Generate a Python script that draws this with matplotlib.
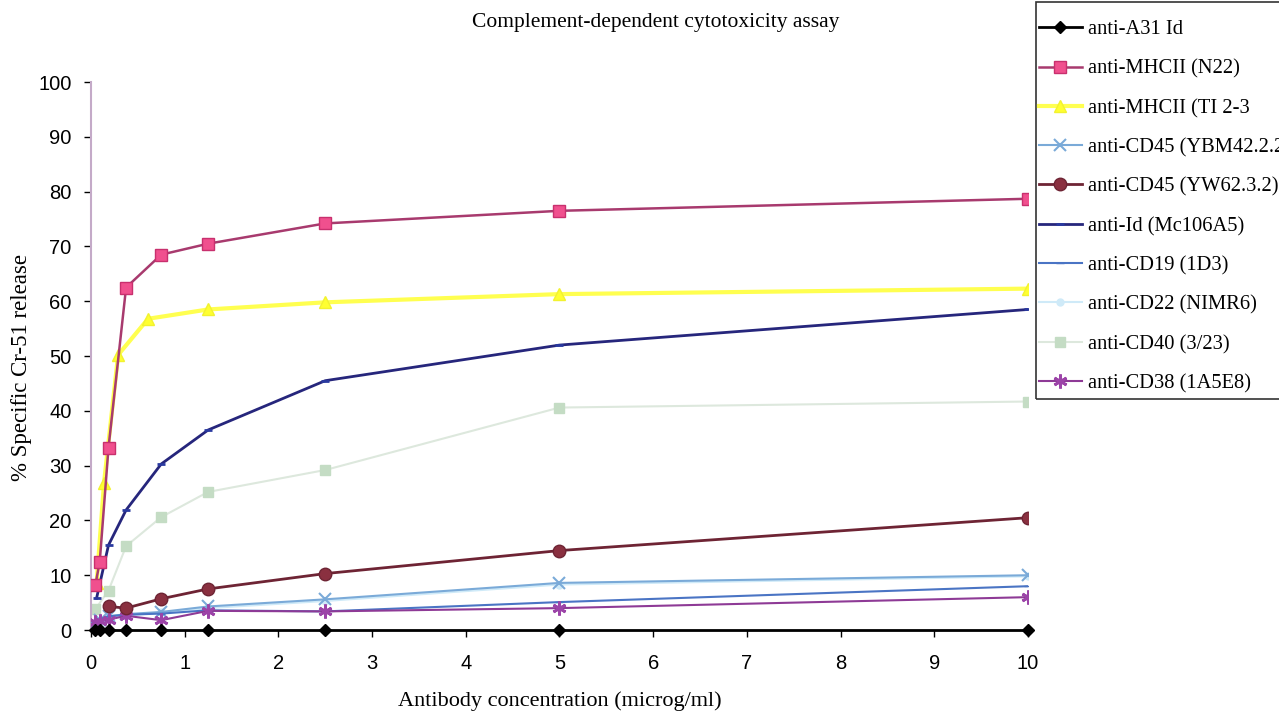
import matplotlib
matplotlib.use("Agg")
import matplotlib.pyplot as plt
from matplotlib.patches import Rectangle

# Antibody concentrations (microg/ml) used for most antibodies
conc = [0.047, 0.094, 0.1875, 0.375, 0.75, 1.25, 2.5, 5, 10]

# % specific Cr-51 release per antibody
a31_y = [0, 0, 0, 0, 0, 0, 0, 0, 0]
n22_y = [8.2, 12.5, 33.3, 62.5, 68.5, 70.5, 74.2, 76.5, 78.7]
ti_x = [0.06, 0.14, 0.29, 0.61, 1.25, 2.5, 5, 10]
ti_y = [8.5, 26.9, 50.2, 56.8, 58.5, 59.8, 61.3, 62.3]
ybm_y = [1.0, 1.8, 2.5, 2.9, 3.3, 4.3, 5.6, 8.6, 10.0]
yw_x = [0.1875, 0.375, 0.75, 1.25, 2.5, 5, 10]
yw_y = [4.3, 4.0, 5.7, 7.5, 10.3, 14.5, 20.5]
mc_x = [0.06, 0.1875, 0.375, 0.75, 1.25, 2.5, 5, 10]
mc_y = [5.8, 15.5, 21.9, 30.3, 36.5, 45.5, 52.0, 58.5]
cd19_y = [1.5, 2.0, 2.5, 2.8, 3.0, 3.6, 3.4, 5.1, 8.0]
cd22_y = [0.3, 1.0, 2.2, 2.6, 3.2, 4.0, 5.3, 8.3, 9.8]
cd40_x = [0.047, 0.1875, 0.375, 0.75, 1.25, 2.5, 5, 10]
cd40_y = [3.8, 7.2, 15.3, 20.6, 25.2, 29.2, 40.6, 41.7]
cd38_y = [1.5, 1.7, 1.9, 2.6, 1.8, 3.5, 3.4, 4.0, 6.0]

labels = ["anti-A31 Id", "anti-MHCII (N22)", "anti-MHCII (TI 2-3",
          "anti-CD45 (YBM42.2.2)", "anti-CD45 (YW62.3.2)", "anti-Id (Mc106A5)",
          "anti-CD19 (1D3)", "anti-CD22 (NIMR6)", "anti-CD40 (3/23)",
          "anti-CD38 (1A5E8)"]

serif = "Liberation Serif"
sans = "Liberation Sans"

fig = plt.figure(figsize=(12.79, 7.14), dpi=100)
ax = fig.add_axes([0.0711, 0.1176, 0.7327, 0.7675])

# faint lines first so the strong ones sit on top
ax.plot(cd40_x, cd40_y, color="#dde8dd", lw=1.5, marker="s", ms=7,
        mfc="#c4dcc4", mec="#c4dcc4", label=labels[8], zorder=2)
ax.plot(conc, cd22_y, color="#cfeaf8", lw=1.5, marker="o", ms=5,
        mfc="#cfeaf8", mec="#cfeaf8", label=labels[7], zorder=2)
ax.plot(conc, ybm_y, color="#7aaad8", lw=1.5, marker="x", ms=8, mew=1.5,
        label=labels[3], zorder=3)
ax.plot(conc, cd19_y, color="#4a74c4", lw=1.5, marker="_", ms=6,
        label=labels[6], zorder=3)
ax.plot(conc, cd38_y, color="#8e3a96", lw=1.5, marker=(6, 2, 0), ms=10,
        mew=2, mec="#9c44a8", label=labels[9], zorder=4)
ax.plot(yw_x, yw_y, color="#6e2434", lw=2, marker="o", ms=9,
        mfc="#8a3040", mec="#6e2434", label=labels[4], zorder=4)
ax.plot(mc_x, mc_y, color="#26267c", lw=2, marker="_", ms=6, mew=2,
        mec="#2a3aa0", label=labels[5], zorder=4)
ax.plot(ti_x, ti_y, color="#ffff50", lw=3, marker="^", ms=9,
        mfc="#ffff30", mec="#f2f230", label=labels[2], zorder=3)
ax.plot(conc, n22_y, color="#a83a6e", lw=1.8, marker="s", ms=8,
        mfc="#f0508e", mec="#c8306e", label=labels[1], zorder=5)
ax.plot(conc, a31_y, color="black", lw=2, marker="D", ms=6,
        label=labels[0], zorder=6, clip_on=False)

ax.set_xlim(0, 10)
ax.set_ylim(0, 100)
ax.set_xticks(range(0, 11))
ax.set_yticks(range(0, 101, 10))
for s in ["top", "right"]:
    ax.spines[s].set_visible(False)
ax.spines["left"].set_color("#c4aac8")
ax.spines["left"].set_linewidth(1.5)
ax.spines["bottom"].set_color("#555555")
ax.tick_params(axis="both", direction="out", length=5, width=1,
               labelsize=14.5, colors="black")
ax.tick_params(axis="x", pad=12)
ax.tick_params(axis="y", pad=9)
for t in ax.get_xticklabels() + ax.get_yticklabels():
    t.set_fontfamily(sans)

ax.set_xlabel("Antibody concentration (microg/ml)", fontfamily=serif,
              fontsize=16)
ax.xaxis.set_label_coords(0.5, -0.112)
fig.text(0.017, 0.485, "% Specific Cr-51 release", fontfamily=serif,
         fontsize=16.5, rotation=90, ha="center", va="center")
fig.text(0.513, 0.968, "Complement-dependent cytotoxicity assay",
         fontfamily=serif, fontsize=15.5, ha="center", va="center")

# legend in the usual series order, hanging off the right edge
handles, labs = ax.get_legend_handles_labels()
order = [labs.index(l) for l in labels]
leg = fig.legend([handles[i] for i in order], [labs[i] for i in order],
                 loc="upper left", bbox_to_anchor=(0.812, 0.972),
                 prop={"family": serif, "size": 14.8}, frameon=False,
                 handlelength=2.1, handletextpad=0.3, labelspacing=0.97,
                 borderpad=0, borderaxespad=0)
fig.patches.append(Rectangle((0.810, 0.441), 0.3, 0.556,
                             transform=fig.transFigure, fill=False,
                             edgecolor="#333333", lw=1.2))

fig.savefig("out.png", dpi=100)
